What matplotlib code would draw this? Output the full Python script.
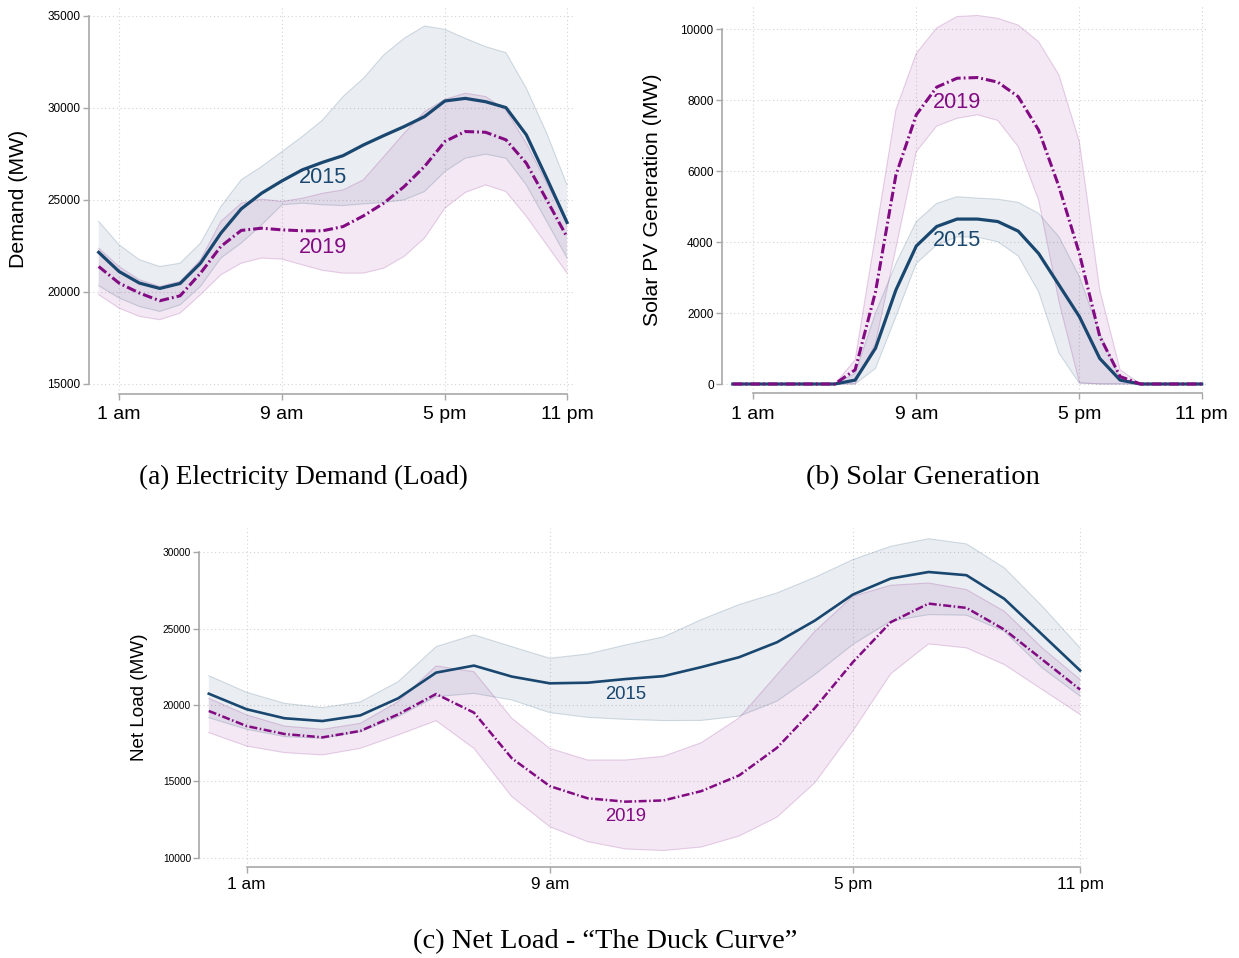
import matplotlib
matplotlib.use('Agg')
import matplotlib.pyplot as plt

# hours of the day (0 = midnight)
hours = list(range(24))
tick_hours = [1, 9, 17, 23]
tick_labels = ['1 am', '9 am', '5 pm', '11 pm']

# (a) demand, MW
demand_2015 = [22150, 21110, 20480, 20190, 20460, 21560, 23190, 24510, 25360, 26030, 26630, 27040,
               27400, 27980, 28490, 28980, 29520, 30370, 30510, 30330, 30010, 28530, 26180, 23770]
demand_2015_hi = [23830, 22560, 21750, 21380, 21560, 22650, 24640, 26090, 26810, 27620, 28440, 29340,
                  30610, 31600, 32870, 33770, 34440, 34260, 33770, 33320, 32990, 31060, 28620, 25810]
demand_2015_lo = [20340, 19670, 19210, 18940, 19300, 20300, 21840, 22650, 23640, 24730, 24820, 24730,
                  24690, 24780, 24860, 25000, 25450, 26540, 27260, 27480, 27260, 25810, 23830, 21840]
demand_2019 = [21380, 20480, 19940, 19520, 19790, 21020, 22470, 23340, 23460, 23370, 23320, 23320,
               23550, 24130, 24820, 25720, 26810, 28170, 28710, 28670, 28260, 26990, 25000, 22980]
demand_2019_hi = [22380, 21380, 20660, 20300, 20570, 21750, 23830, 24820, 25040, 24910, 25090, 25360,
                  25540, 26090, 27350, 28620, 29790, 30460, 30790, 30610, 29880, 28070, 25900, 23830]
demand_2019_lo = [19850, 19120, 18670, 18490, 18850, 19850, 20930, 21560, 21840, 21780, 21470, 21170,
                  21020, 21020, 21290, 21930, 22920, 24550, 25400, 25810, 25450, 24100, 22560, 21020]

# (b) solar PV generation, MW
solar_2015 = [0, 0, 0, 0, 0, 0, 110, 1010, 2650, 3890, 4440, 4650,
              4650, 4580, 4310, 3680, 2790, 1900, 720, 110, 0, 0, 0, 0]
solar_2015_hi = [0, 0, 0, 0, 0, 0, 300, 2000, 3400, 4580, 5090, 5280,
                 5240, 5210, 5120, 4810, 4150, 3030, 1430, 160, 0, 0, 0, 0]
solar_2015_lo = [0, 0, 0, 0, 0, 0, 0, 440, 1900, 3400, 3920, 4150,
                 4140, 4010, 3610, 2600, 870, 20, 0, 0, 0, 0, 0, 0]
solar_2019 = [0, 0, 0, 0, 0, 0, 400, 2600, 5890, 7590, 8370, 8620,
              8640, 8510, 8100, 7160, 5560, 3680, 1340, 210, 0, 0, 0, 0]
solar_2019_hi = [0, 0, 0, 0, 0, 0, 680, 4200, 7730, 9320, 10040, 10360,
                 10390, 10310, 10120, 9650, 8710, 6830, 2650, 400, 0, 0, 0, 0]
solar_2019_lo = [0, 0, 0, 0, 0, 0, 0, 1150, 3830, 6550, 7270, 7490,
                 7590, 7430, 6690, 5190, 2320, 40, 0, 0, 0, 0, 0, 0]

# (c) net load, MW
net_2015 = [20740, 19720, 19130, 18950, 19320, 20440, 22120, 22580, 21860, 21420, 21460, 21700,
            21890, 22480, 23130, 24110, 25530, 27230, 28280, 28710, 28500, 26950, 24610, 22260]
net_2015_hi = [21920, 20830, 20110, 19830, 20200, 21530, 23820, 24590, 23820, 23060, 23340, 23930,
               24460, 25590, 26580, 27340, 28360, 29520, 30390, 30890, 30550, 28980, 26470, 23740]
net_2015_lo = [19170, 18410, 17930, 17820, 18250, 19240, 20550, 20760, 20330, 19500, 19190, 19060,
               18980, 18990, 19270, 20250, 22000, 23960, 25490, 25920, 25880, 24830, 22430, 20580]
net_2019 = [19610, 18620, 18100, 17880, 18300, 19390, 20720, 19500, 16510, 14690, 13890, 13670,
            13750, 14360, 15390, 17200, 19810, 22800, 25420, 26640, 26360, 24940, 22980, 21010]
net_2019_hi = [20440, 19350, 18620, 18410, 18800, 20220, 22560, 22180, 19130, 17160, 16400, 16400,
               16640, 17530, 19160, 22000, 24830, 27120, 27840, 27990, 27560, 26140, 23740, 21670]
net_2019_lo = [18190, 17310, 16880, 16730, 17160, 18040, 18970, 17160, 14000, 12030, 11050, 10570,
               10470, 10700, 11420, 12660, 14910, 18290, 22040, 24000, 23740, 22650, 21010, 19380]

navy = '#1a476f'
purple = '#820a82'
axis_grey = '#a8a8a8'

W, H = 1239, 958
fig = plt.figure(figsize=(W / 100, H / 100), dpi=100)
plt.rcParams['font.family'] = ['Liberation Sans', 'DejaVu Sans']


def add_axes_px(left, top, right, bottom):
    return fig.add_axes([left / W, 1 - bottom / H, (right - left) / W, (bottom - top) / H])


def draw_panel(ax, s15, s15_lo, s15_hi, s19, s19_lo, s19_hi, yticks, xlim, ylim,
               ylabel, ylabel_xy, ylabel_size, label_pos, label_size, xtick_size, ytick_size, lw, xpad):
    ax.fill_between(hours, s15_lo, s15_hi, facecolor=navy, alpha=0.09, lw=0)
    ax.fill_between(hours, s19_lo, s19_hi, facecolor=purple, alpha=0.09, lw=0)
    for lo, hi, c in [(s15_lo, s15_hi, navy), (s19_lo, s19_hi, purple)]:
        ax.plot(hours, lo, color=c, alpha=0.18, lw=0.8)
        ax.plot(hours, hi, color=c, alpha=0.18, lw=0.8)
    ax.plot(hours, s15, color=navy, lw=lw, solid_joinstyle='round')
    ax.plot(hours, s19, color=purple, lw=lw * 0.95, linestyle=(0, (3.2, 1.0, 0.6, 1.0)))

    ax.text(label_pos[0][0], label_pos[0][1], '2015', color=navy, fontsize=label_size,
            ha='center', va='center')
    ax.text(label_pos[1][0], label_pos[1][1], '2019', color=purple, fontsize=label_size,
            ha='center', va='center')

    ax.set_xlim(*xlim)
    ax.set_ylim(*ylim)
    ax.set_xticks(tick_hours)
    ax.set_xticklabels(tick_labels)
    ax.set_yticks(yticks)
    ax.set_yticklabels([str(v) for v in yticks])

    for s in ['top', 'right']:
        ax.spines[s].set_visible(False)
    for s in ['left', 'bottom']:
        ax.spines[s].set_color(axis_grey)
        ax.spines[s].set_linewidth(1.2)
    ax.spines['left'].set_bounds(yticks[0], yticks[-1])
    ax.spines['bottom'].set_bounds(tick_hours[0], tick_hours[-1])

    ax.tick_params(axis='y', length=4, width=1, color=axis_grey, labelsize=ytick_size, pad=2)
    ax.tick_params(axis='x', length=4, width=1, color=axis_grey, labelsize=xtick_size, pad=xpad)

    ax.grid(True, color='#d4d4d4', linestyle=(0, (1, 2.5)), linewidth=0.8)
    ax.set_axisbelow(True)

    ax.set_ylabel(ylabel, fontsize=ylabel_size, va='center')
    ax.yaxis.set_label_coords(ylabel_xy[0] / W, 1 - ylabel_xy[1] / H, transform=fig.transFigure)


# (a) Electricity demand
ax_a = add_axes_px(88.7, 6, 575, 393.7)
draw_panel(ax_a, demand_2015, demand_2015_lo, demand_2015_hi,
           demand_2019, demand_2019_lo, demand_2019_hi,
           [15000, 20000, 25000, 30000, 35000], (-0.49, 23.39), (14473, 35527),
           'Demand (MW)', (19, 199), 15.3, [(11, 26190), (11, 22430)], 15.6, 14, 8.5, 2.3, 5)

# (b) Solar generation
ax_b = add_axes_px(722, 5, 1207, 393.3)
draw_panel(ax_b, solar_2015, solar_2015_lo, solar_2015_hi,
           solar_2019, solar_2019_lo, solar_2019_hi,
           [0, 2000, 4000, 6000, 8000, 10000], (-0.53, 23.26), (-262, 10685),
           'Solar PV Generation (MW)', (653, 200), 15.3, [(11, 4040), (11, 7940)], 15.6, 14, 8.5, 2.3, 5)

# (c) Net load
ax_c = add_axes_px(199.3, 528, 1087.3, 866.7)
draw_panel(ax_c, net_2015, net_2015_lo, net_2015_hi,
           net_2019, net_2019_lo, net_2019_hi,
           [10000, 15000, 20000, 25000, 30000], (-0.25, 23.19), (9411, 31591),
           'Net Load (MW)', (140, 697), 13.6, [(11, 20720), (11, 12730)], 13.3, 12.4, 7.3, 1.9, 3.5)

# captions
cap_font = ['Liberation Serif', 'DejaVu Serif']
fig.text(303 / W, 1 - 484 / H, '(a) Electricity Demand (Load)', ha='center', va='baseline',
         fontsize=19.5, family=cap_font)
fig.text(922.5 / W, 1 - 484 / H, '(b) Solar Generation', ha='center', va='baseline',
         fontsize=20.5, family=cap_font)
fig.text(605.5 / W, 1 - 948 / H, '(c) Net Load - \u201cThe Duck Curve\u201d', ha='center', va='baseline',
         fontsize=20.5, family=cap_font)

plt.savefig('out.png', dpi=100)
